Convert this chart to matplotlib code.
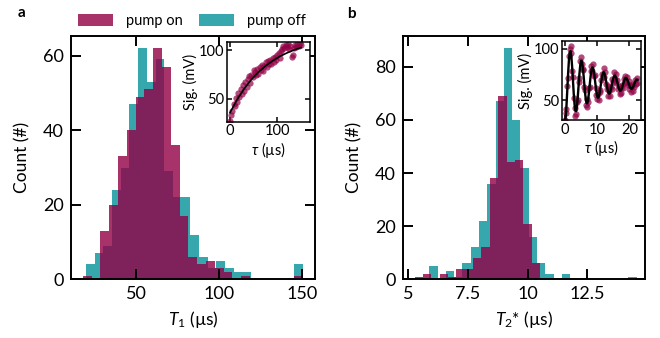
import numpy as np
import matplotlib
matplotlib.use("Agg")
import matplotlib.pyplot as plt

plt.rcParams['font.family'] = ['Lato', 'DejaVu Sans']
plt.rcParams['mathtext.fontset'] = 'custom'
plt.rcParams['mathtext.rm'] = 'Lato'
plt.rcParams['mathtext.it'] = 'Lato:italic'

PINK = '#920046'
TEAL = '#37a7ae'

# ---- panel a: T1 histograms (25 bins each) ----
t1_on_range = (17.8, 150.6)
t1_on_counts = [1, 0, 13, 20, 33, 40, 49, 51, 62, 57, 36, 17, 6, 4, 5, 3, 2, 0, 1, 0, 0, 0, 0, 0, 1]
t1_off_range = (19.8, 150.8)
t1_off_counts = [4, 7, 9, 24, 30, 47, 62, 53, 59, 29, 22, 22, 12, 6, 3, 5, 3, 2, 2, 0, 0, 0, 0, 0, 4]

# ---- panel b: T2* histograms ----
t2_on_range = (5.27, 10.52)
t2_on_counts = [1, 2, 0, 2, 1, 4, 4, 8, 12, 38, 69, 44, 45, 21, 6]
t2_off_range = (5.88, 14.57)
t2_off_counts = [5, 0, 3, 1, 6, 12, 22, 36, 67, 87, 60, 42, 16, 6, 2, 0, 2, 0, 0, 0, 0, 0, 0, 0, 1]

# ---- inset a: T1 recovery trace ----
ins_a_t = [0, 2.5, 5, 7.5, 10, 12.5, 15, 17.5, 20, 22.5, 25, 27.5, 30, 32.5, 35, 37.5,
           40, 42.5, 45, 47.5, 50, 52.5, 55, 57.5, 60, 62.5, 65, 67.5, 70, 72.5, 75, 77.5,
           80, 82.5, 85, 87.5, 90, 92.5, 95, 97.5, 100, 102.5, 105, 107.5, 110, 112.5,
           115, 117.5, 120, 122.5, 125, 127.5, 130, 132.5, 135, 137.5, 140, 142.5, 145,
           147.5, 150]
ins_a_sig = [27, 34, 38, 45, 43, 51, 47, 56, 52, 60, 55, 64, 58, 67, 62, 70,
             73, 66, 75, 72, 80, 78, 74, 81, 76, 83, 80, 85, 79, 84, 88, 83,
             89, 86, 90, 86, 92, 88, 93, 90, 95, 97, 92, 99, 101, 104,
             102, 105, 103, 106, 101, 104, 93, 95, 102, 105, 103, 106, 104,
             107, 105]
fit_a_t = [0, 15, 30, 45, 60, 75, 90, 105, 120, 135, 150]
fit_a_sig = [36.0, 49.4, 60.5, 69.8, 77.4, 83.7, 89.0, 93.4, 97.0, 100.0, 102.5]

# ---- inset b: Ramsey trace ----
ins_b_t = [0, 0.25, 0.5, 0.75, 1, 1.25, 1.5, 1.75, 2, 2.25, 2.5, 2.75, 3, 3.25, 3.5, 3.75,
           4, 4.25, 4.5, 4.75, 5, 5.25, 5.5, 5.75, 6, 6.25, 6.5, 6.75, 7, 7.25, 7.5, 7.75,
           8, 8.25, 8.5, 8.75, 9, 9.25, 9.5, 9.75, 10, 10.25, 10.5, 10.75, 11, 11.25, 11.5,
           11.75, 12, 12.25, 12.5, 12.75, 13, 13.25, 13.5, 13.75, 14, 14.25, 14.5, 14.75,
           15, 15.25, 15.5, 15.75, 16, 16.25, 16.5, 16.75, 17, 17.25, 17.5, 17.75, 18,
           18.25, 18.5, 18.75, 19, 19.25, 19.5, 19.75, 20, 20.25, 20.5, 20.75, 21, 21.25,
           21.5, 21.75, 22, 22.25, 22.5]
ins_b_sig = [31, 38, 42, 64, 72, 93, 100, 103, 96, 78, 73, 52, 43, 35, 37, 48,
             50, 68, 72, 88, 92, 85, 80, 79, 63, 60, 46, 44, 51, 48, 62, 63,
             78, 83, 78, 85, 74, 75, 62, 55, 51, 56, 50, 60, 58, 70, 76,
             73, 81, 73, 77, 66, 61, 64, 54, 59, 54, 63, 61, 71,
             68, 77, 71, 76, 67, 70, 61, 64, 56, 62, 57, 65, 62,
             71, 67, 74, 68, 73, 65, 69, 61, 65, 58, 64, 59, 66,
             63, 70, 66, 72, 67]
fit_b_sig = [28.0, 33.5, 45.1, 60.4, 76.0, 88.9, 96.6, 97.8, 92.6, 82.4, 69.4, 56.3, 45.9,
             39.9, 39.5, 44.3, 53.3, 64.3, 75.2, 83.6, 88.2, 88.1, 83.8, 75.8, 66.5, 57.5,
             50.5, 47.2, 47.5, 51.7, 58.5, 66.4, 74.0, 79.4, 81.9, 81.2, 77.6, 71.7, 65.1,
             58.8, 54.3, 52.5, 53.3, 56.8, 61.9, 67.4, 72.7, 76.0, 77.4, 76.4, 73.4, 69.1,
             64.4, 60.2, 57.3, 56.4, 57.3, 60.1, 64.0, 67.8, 71.4, 73.4, 74.1, 73.1, 70.6,
             67.5, 64.3, 61.4, 59.6, 59.2, 60.2, 62.3, 65.2, 67.8, 70.2, 71.4, 71.7, 70.7,
             68.8, 66.6, 64.3, 62.4, 61.3, 61.3, 62.1, 63.7, 65.8, 67.6, 69.3, 70.0, 69.9]


def draw_hist(ax, rng, counts, color, alpha, label):
    edges = np.linspace(rng[0], rng[1], len(counts) + 1)
    ax.bar(edges[:-1], counts, width=np.diff(edges), align='edge',
           color=color, alpha=alpha, linewidth=0, label=label)


def style(ax, size, width, length, pad):
    ax.tick_params(direction='in', top=True, right=True, labelsize=size,
                   width=width, length=length, pad=pad)
    for s in ax.spines.values():
        s.set_linewidth(width)


fig = plt.figure(figsize=(6.6, 3.38), dpi=100)
ax_a = fig.add_axes([0.1076, 0.1737, 0.3697, 0.7198])
ax_b = fig.add_axes([0.6102, 0.1737, 0.3670, 0.7198])

draw_hist(ax_a, t1_off_range, t1_off_counts, TEAL, 1.0, 'pump off')
draw_hist(ax_a, t1_on_range, t1_on_counts, PINK, 0.8, 'pump on')
ax_a.set_xlim(10.7, 158)
ax_a.set_ylim(0, 65.3)
ax_a.set_xticks([50, 100, 150])
ax_a.set_yticks([0, 20, 40, 60])
ax_a.set_xlabel('$T_1$ (µs)', fontsize=12.5, labelpad=5)
ax_a.set_ylabel('Count (#)', fontsize=12.5, labelpad=9)
style(ax_a, 13, 1.4, 7, 5)

draw_hist(ax_b, t2_off_range, t2_off_counts, TEAL, 1.0, 'pump off')
draw_hist(ax_b, t2_on_range, t2_on_counts, PINK, 0.8, 'pump on')
ax_b.set_xlim(4.77, 14.92)
ax_b.set_ylim(0, 91.6)
ax_b.set_xticks([5, 7.5, 10, 12.5])
ax_b.set_xticklabels(['5', '7.5', '10', '12.5'])
ax_b.set_yticks([0, 20, 40, 60, 80])
ax_b.set_xlabel('$T_2$* (µs)', fontsize=12.5, labelpad=5)
ax_b.set_ylabel('Count (#)', fontsize=12.5, labelpad=9)
style(ax_b, 13, 1.4, 7, 5)

h, l = ax_a.get_legend_handles_labels()
fig.legend(h[::-1], l[::-1], loc='center', bbox_to_anchor=(0.291, 0.938), ncol=2,
           frameon=False, fontsize=10.5, handlelength=2.4, handleheight=0.85,
           columnspacing=1.1, handletextpad=0.9)

# insets
in_a = fig.add_axes([0.3435, 0.640, 0.1262, 0.2366])
in_a.plot(ins_a_t, ins_a_sig, 'o', color=PINK, alpha=0.7, ms=4.5, mew=0)
in_a.plot(fit_a_t, fit_a_sig, '-', color='black', lw=1.2)
in_a.set_xlim(-7, 169)
in_a.set_ylim(26.8, 108.5)
in_a.set_xticks([0, 100])
in_a.set_yticks([50, 100])
in_a.set_xlabel('$\\tau$ (µs)', fontsize=10.5, labelpad=1)
in_a.set_ylabel('Sig. (mV)', fontsize=10.5, labelpad=0.5)
style(in_a, 10.5, 1.1, 3.5, 2)

in_b = fig.add_axes([0.8510, 0.645, 0.1197, 0.2337])
in_b.plot(ins_b_t, ins_b_sig, 'o', color=PINK, alpha=0.7, ms=4.5, mew=0)
in_b.plot(ins_b_t, fit_b_sig, '-', color='black', lw=1.7)
in_b.set_xlim(-1, 23.5)
in_b.set_ylim(31, 107.5)
in_b.set_xticks([0, 10, 20])
in_b.set_yticks([50, 100])
in_b.set_xlabel('$\\tau$ (µs)', fontsize=10.5, labelpad=1)
in_b.set_ylabel('Sig. (mV)', fontsize=10.5, labelpad=0.5)
style(in_b, 10.5, 1.1, 3.5, 2)

fig.text(0.026, 0.962, 'a', fontsize=11, fontweight='bold', va='center')
fig.text(0.526, 0.958, 'b', fontsize=11, fontweight='bold', va='center')

fig.savefig('out.png', dpi=100)
